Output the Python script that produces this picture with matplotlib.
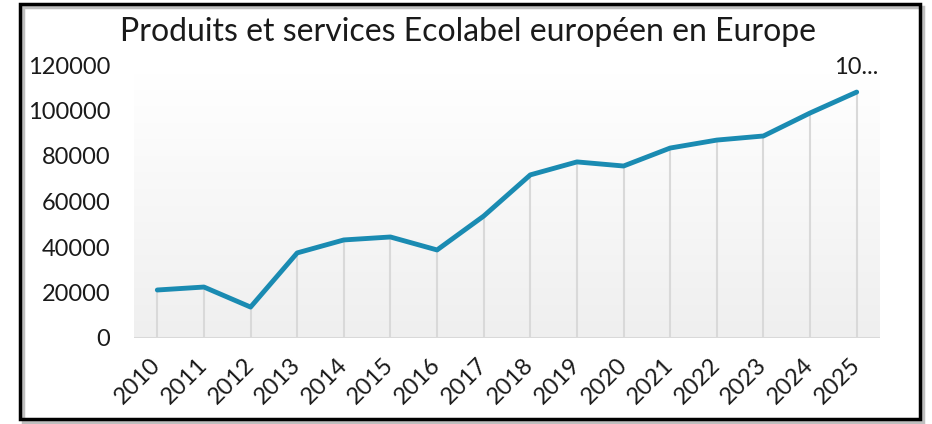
import matplotlib.pyplot as plt
import numpy as np
from matplotlib.patches import Rectangle

plt.rcParams['font.family'] = ['Lato', 'DejaVu Sans']

# Nombre de produits et services Ecolabel européen
years = [str(y) for y in range(2010, 2026)]
values = [21100, 22400, 13600, 37400, 43100, 44400, 38700, 53600,
          71700, 77400, 75600, 83500, 87000, 88800, 98900, 108100]
last_label = '10...'

fig = plt.figure(figsize=(9.32, 4.24), dpi=100)
ax = fig.add_axes([134 / 932, 1 - 338 / 424, (880 - 134) / 932, (338 - 65) / 424])

pos = np.arange(len(years))
ax.set_xlim(-0.5, len(years) - 0.5)
ax.set_ylim(0, 120000)

# fond en dégradé blanc -> gris clair
grad = np.linspace(0, 1, 256).reshape(-1, 1)
ax.imshow(grad, extent=[0, 1, 0, 0.97], transform=ax.transAxes, aspect='auto',
          cmap=plt.matplotlib.colors.LinearSegmentedColormap.from_list('g', ['#efefef', '#ffffff']),
          origin='lower', zorder=0)

# lignes de projection
ax.vlines(pos, 0, values, color='#d9d9d9', lw=1.5, zorder=1)
ax.axhline(0, color='#d9d9d9', lw=1.5, zorder=1)
ax.plot(pos, values, color='#1a8bb2', lw=3.5, solid_capstyle='round', zorder=3)
ax.annotate(last_label, (pos[-1], values[-1]), xytext=(0, 10), textcoords='offset points',
            ha='center', va='bottom', fontsize=17, color='#1a1a1a')

for s in ax.spines.values():
    s.set_visible(False)
ax.set_yticks(range(0, 120001, 20000))
ax.set_xticks(pos)
ax.set_xticklabels(years, rotation=45, ha='right', va='center', rotation_mode='anchor')
ax.tick_params(axis='y', length=0, pad=17, labelsize=17, labelcolor='#1a1a1a')
ax.tick_params(axis='x', length=0, pad=17, labelsize=17, labelcolor='#1a1a1a')

fig.text(468 / 932, 1 - 32 / 424, 'Produits et services Ecolabel européen en Europe',
         ha='center', va='center', fontsize=23, color='#1a1a1a')

# cadre noir avec ombre
fig.patches.append(Rectangle((23 / 932, 1 - 422 / 424), 900 / 932, 415 / 424,
                             transform=fig.transFigure, fill=False, ec='#bfbfbf', lw=2.5))
fig.patches.append(Rectangle((20 / 932, 1 - 419 / 424), 900 / 932, 415 / 424,
                             transform=fig.transFigure, fill=False, ec='black', lw=2.5))

fig.savefig('out.png', dpi=100)
